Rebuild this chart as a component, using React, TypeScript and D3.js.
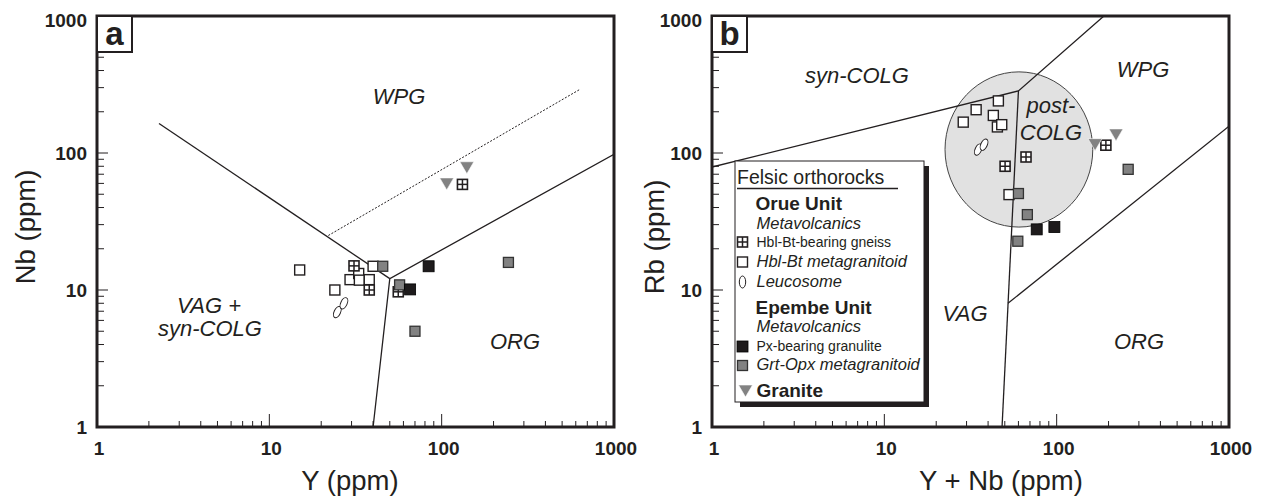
import React from "react";
import * as d3 from "d3";

// ---------- DATA ----------
// Panel a: Y (ppm) vs Nb (ppm)
const aGneiss: [number, number][] = [[31, 15], [38, 10], [56, 9.7], [132, 59]];
const aGranitoid: [number, number][] = [[15, 14], [24, 10], [29.4, 11.9], [33, 13.2], [33.3, 11.8], [38, 11.9], [40, 14.9]];
const aLeucosome: [number, number][] = [[24.8, 6.9], [27.1, 8.0]];
const aPxGranulite: [number, number][] = [[65.6, 10.1], [84, 14.9]];
const aGrtOpx: [number, number][] = [[45.5, 14.9], [57, 10.9], [70, 5.0], [244, 15.9]];
const aGranite: [number, number][] = [[107, 61], [140, 80]];

// Panel b: Y+Nb (ppm) vs Rb (ppm)
const bGneiss: [number, number][] = [[50.2, 80], [66.4, 93.5], [193, 114]];
const bGranitoid: [number, number][] = [[28.7, 168], [34.1, 207], [45.9, 240], [42.9, 188], [45.3, 155], [48, 161], [52.9, 49.7]];
const bLeucosome: [number, number][] = [[35.1, 106], [37.9, 115]];
const bPxGranulite: [number, number][] = [[76.6, 27.7], [97, 28.8]];
const bGrtOpx: [number, number][] = [[60, 50.6], [67.6, 35.5], [59.5, 22.7], [260, 76]];
const bGranite: [number, number][] = [[167, 118], [221, 139]];

// Discrimination boundaries (Pearce et al. 1984)
const aLineVAG: [number, number][] = [[2.29, 164], [50, 12.1]];
const aLineORG: [number, number][] = [[40, 1], [50, 12.1], [1000, 98]];
const aLineDotted: [number, number][] = [[22, 25], [630, 290]];

const bLineSyn: [number, number][] = [[1, 79], [60, 284], [188, 1000]];
const bLineVAG: [number, number][] = [[60, 284], [48.2, 1]];
const bLineORG: [number, number][] = [[52.2, 8], [1000, 157]];
const bPostColgX: [number, number] = [22.5, 162];
const bPostColgY: [number, number] = [28.8, 391];

const tickValues: number[] = [1, 2, 3, 4, 5, 6, 7, 8, 9, 10, 20, 30, 40, 50, 60, 70, 80, 90, 100, 200, 300, 400, 500, 600, 700, 800, 900, 1000];
const tickLabels: number[] = [1, 10, 100, 1000];

type FieldLabel = { text: string; x: number; y: number };
const aFieldLabels: FieldLabel[] = [
  { text: "WPG", x: 399, y: 104 },
  { text: "VAG +", x: 209, y: 312.5 },
  { text: "syn-COLG", x: 210, y: 336 },
  { text: "ORG", x: 515, y: 349 },
];
const bFieldLabels: FieldLabel[] = [
  { text: "syn-COLG", x: 857, y: 83 },
  { text: "WPG", x: 1143, y: 77 },
  { text: "post-", x: 1051, y: 112.5 },
  { text: "COLG", x: 1051, y: 139.5 },
  { text: "VAG", x: 965, y: 320.5 },
  { text: "ORG", x: 1139, y: 348.5 },
];

type LegendRow = { text: string; kind: "head" | "sub" | "item"; marker?: string; italic?: boolean; y: number };
const legendRows: LegendRow[] = [
  { text: "Orue Unit", kind: "head", y: 210 },
  { text: "Metavolcanics", kind: "sub", y: 228.5 },
  { text: "Hbl-Bt-bearing gneiss", kind: "item", marker: "gneiss", italic: false, y: 246.5 },
  { text: "Hbl-Bt metagranitoid", kind: "item", marker: "granitoid", italic: true, y: 266.5 },
  { text: "Leucosome", kind: "item", marker: "leuco", italic: true, y: 286.5 },
  { text: "Epembe Unit", kind: "head", y: 314 },
  { text: "Metavolcanics", kind: "sub", y: 331.5 },
  { text: "Px-bearing granulite", kind: "item", marker: "px", italic: false, y: 351 },
  { text: "Grt-Opx metagranitoid", kind: "item", marker: "grt", italic: true, y: 370 },
  { text: "Granite", kind: "head", marker: "granite", y: 397 },
];

// ---------- STYLE ----------
const FONT = '"Liberation Sans", Arial, Helvetica, sans-serif';
const INK = "#231f20";
const GRAY = "#828282";

function Marker({ type, x, y, legend }: { type: string; x: number; y: number; legend?: boolean }) {
  switch (type) {
    case "gneiss":
      return (
        <g>
          <rect x={x - 5} y={y - 5} width={10} height={10} fill="#fff" stroke={INK} strokeWidth={1.6} />
          <line x1={x} x2={x} y1={y - 5} y2={y + 5} stroke={INK} strokeWidth={1.5} />
          <line x1={x - 5} x2={x + 5} y1={y} y2={y} stroke={INK} strokeWidth={1.5} />
        </g>
      );
    case "granitoid":
      return <rect x={x - 5} y={y - 5} width={10} height={10} fill="#fff" stroke={INK} strokeWidth={1.4} />;
    case "leuco":
      return (
        <ellipse cx={x} cy={y} rx={3.2} ry={6} fill="#fff" stroke={INK} strokeWidth={1}
          transform={legend ? undefined : `rotate(25 ${x} ${y})`} />
      );
    case "px":
      return <rect x={x - 5.5} y={y - 5.5} width={11} height={11} fill="#1e1b1c" stroke="#000" strokeWidth={0.8} />;
    case "grt":
      return <rect x={x - 5} y={y - 5} width={10} height={10} fill={GRAY} stroke="#333" strokeWidth={1.3} />;
    case "granite":
      return <path d={`M${x - 7},${y - 4.5} L${x + 7},${y - 4.5} L${x},${y + 7.5} Z`} fill={GRAY} stroke="#fff" strokeWidth={0.6} />;
    default:
      return null;
  }
}

type PanelProps = {
  left: number;
  right: number;
  letter: string;
  xTitle: string;
  xTitleX: number;
  yTitle: string;
  yTitleX: number;
  yTitleY: number;
  series: { type: string; data: [number, number][] }[];
  lines: { data: [number, number][]; dashed?: boolean }[];
  labels: FieldLabel[];
  ellipse?: { xs: [number, number]; ys: [number, number] };
  id: string;
};

const TOP = 16;
const BOTTOM = 427;

function Panel(p: PanelProps) {
  const x = d3.scaleLog().domain([1, 1000]).range([p.left, p.right]);
  const y = d3.scaleLog().domain([1, 1000]).range([BOTTOM, TOP]);
  const line = d3.line<[number, number]>().x((d) => x(d[0])).y((d) => y(d[1]));
  const isMajor = (v: number) => tickLabels.includes(v);
  return (
    <g>
      <defs>
        <clipPath id={`clip-${p.id}`}>
          <rect x={p.left} y={TOP} width={p.right - p.left} height={BOTTOM - TOP} />
        </clipPath>
      </defs>
      <g clipPath={`url(#clip-${p.id})`}>
        {p.ellipse && (() => {
          const x0 = x(p.ellipse.xs[0]), x1 = x(p.ellipse.xs[1]);
          const y0 = y(p.ellipse.ys[0]), y1 = y(p.ellipse.ys[1]);
          return (
            <ellipse cx={(x0 + x1) / 2} cy={(y0 + y1) / 2} rx={Math.abs(x1 - x0) / 2} ry={Math.abs(y1 - y0) / 2}
              fill="#e1e1e1" stroke="#444" strokeWidth={1} />
          );
        })()}
        {p.lines.map((l, i) => (
          <path key={i} d={line(l.data) || ""} fill="none" stroke={INK}
            strokeWidth={l.dashed ? 1 : 1.3} strokeDasharray={l.dashed ? "2 1.6" : undefined} />
        ))}
      </g>
      {p.labels.map((t, i) => (
        <text key={i} x={t.x} y={t.y} textAnchor="middle" fontFamily={FONT} fontSize={22}
          fontStyle="italic" fill={INK}>{t.text}</text>
      ))}
      {p.series.map((s, i) => (
        <g key={i}>
          {s.data.map((d, j) => <Marker key={j} type={s.type} x={x(d[0])} y={y(d[1])} />)}
        </g>
      ))}
      {/* ticks */}
      {tickValues.map((v) => (
        <line key={`xt${v}`} x1={x(v)} x2={x(v)} y1={BOTTOM} y2={BOTTOM - (isMajor(v) ? 13 : 6)} stroke={INK} strokeWidth={1} />
      ))}
      {tickValues.map((v) => (
        <line key={`yt${v}`} x1={p.left} x2={p.left + (isMajor(v) ? 11 : 7)} y1={y(v)} y2={y(v)} stroke={INK} strokeWidth={1} />
      ))}
      <rect x={p.left} y={TOP} width={p.right - p.left} height={BOTTOM - TOP} fill="none" stroke={INK} strokeWidth={3} />
      {tickLabels.map((v) => (
        <text key={`xl${v}`} x={x(v) + 2} y={455} textAnchor="middle" fontFamily={FONT} fontSize={19}
          fontWeight="bold" fill={INK}>{v}</text>
      ))}
      {tickLabels.map((v) => (
        <text key={`yl${v}`} x={p.left - 10} y={Math.max(y(v), 20)} dy="0.35em" textAnchor="end" fontFamily={FONT}
          fontSize={19} fontWeight="bold" fill={INK}>{v}</text>
      ))}
      {/* panel letter */}
      <rect x={p.left} y={TOP} width={35} height={36} fill="#fff" stroke={INK} strokeWidth={2} />
      <text x={p.left + 17.5} y={TOP + 29} textAnchor="middle" fontFamily={FONT} fontSize={33} fontWeight="bold" fill={INK}>{p.letter}</text>
      {/* axis titles */}
      <text x={p.xTitleX} y={490} textAnchor="middle" fontFamily={FONT} fontSize={27.5} fill={INK}>{p.xTitle}</text>
      <text transform={`translate(${p.yTitleX},${p.yTitleY}) rotate(-90)`} textAnchor="middle" fontFamily={FONT}
        fontSize={27.5} fill={INK}>{p.yTitle}</text>
    </g>
  );
}

function Legend() {
  const L = 735, T = 161, W = 189, H = 241;
  return (
    <g fontFamily={FONT} fill={INK}>
      <rect x={L + 5} y={T + 5} width={W} height={H} fill={INK} />
      <rect x={L} y={T} width={W} height={H} fill="#fff" stroke={INK} strokeWidth={1} />
      <text x={737} y={184} fontSize={19.5} fill={INK}>Felsic orthorocks</text>
      <line x1={737} x2={898} y1={188.5} y2={188.5} stroke={INK} strokeWidth={1.6} />
      {legendRows.map((r, i) => {
        const mx = 742.5;
        const my = r.marker === "granite" ? r.y - 7.5 : r.kind === "item" ? r.y - 4.5 : r.y;
        const fs = r.kind === "head" ? 19 : r.kind === "sub" ? 16.5 : r.italic ? 16.5 : 14;
        return (
          <g key={i}>
            {r.marker && <Marker type={r.marker} x={r.marker === "granite" ? 745.5 : mx} y={my} legend />}
            <text x={r.kind === "head" && !r.marker ? 755.5 : 756.5} y={r.y} fontSize={fs}
              fontWeight={r.kind === "head" ? "bold" : "normal"}
              fontStyle={r.kind === "sub" || r.italic ? "italic" : "normal"} fill={INK}>{r.text}</text>
          </g>
        );
      })}
    </g>
  );
}

export default function App() {
  const seriesA = [
    { type: "granitoid", data: aGranitoid },
    { type: "gneiss", data: aGneiss },
    { type: "leuco", data: aLeucosome },
    { type: "grt", data: aGrtOpx },
    { type: "px", data: aPxGranulite },
    { type: "granite", data: aGranite },
  ];
  const seriesB = [
    { type: "granitoid", data: bGranitoid },
    { type: "gneiss", data: bGneiss },
    { type: "leuco", data: bLeucosome },
    { type: "grt", data: bGrtOpx },
    { type: "px", data: bPxGranulite },
    { type: "granite", data: bGranite },
  ];
  return (
    <svg width={1268} height={497} viewBox="0 0 1268 497"
      style={{ position: "absolute", left: 0, top: 0, background: "#fff" }}>
      <rect x={0} y={0} width={1268} height={497} fill="#fff" />
      <Panel id="a" left={97} right={614} letter="a" xTitle="Y (ppm)" xTitleX={350}
        yTitle="Nb (ppm)" yTitleX={35} yTitleY={227} series={seriesA}
        lines={[{ data: aLineVAG }, { data: aLineORG }, { data: aLineDotted, dashed: true }]}
        labels={aFieldLabels} />
      <Panel id="b" left={712} right={1229} letter="b" xTitle="Y + Nb (ppm)" xTitleX={1001}
        yTitle="Rb (ppm)" yTitleX={664} yTitleY={237} series={seriesB}
        lines={[{ data: bLineSyn }, { data: bLineVAG }, { data: bLineORG }]}
        labels={bFieldLabels} ellipse={{ xs: bPostColgX, ys: bPostColgY }} />
      <Legend />
    </svg>
  );
}
